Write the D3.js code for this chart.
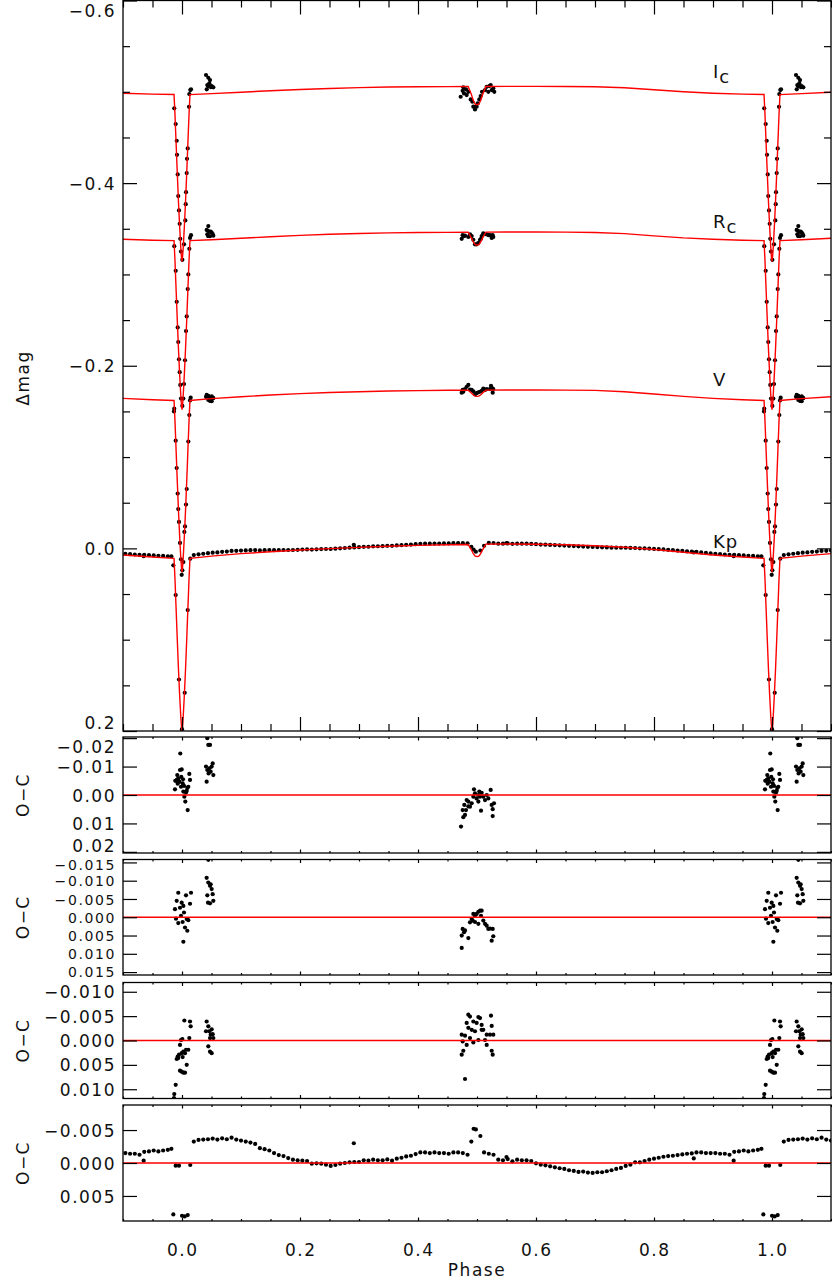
<!DOCTYPE html>
<html><head><meta charset="utf-8">
<script src="https://cdn.jsdelivr.net/npm/d3@7"></script>
<style>body{margin:0;background:#fff}svg{display:block}</style>
</head><body><svg id="c" width="832" height="1285"></svg>
<script>
// ---------------- DATA ----------------
const xTicks = [0, 0.2, 0.4, 0.6, 0.8, 1.0];
const xMinor = [-0.1,-0.05,0.05,0.1,0.15,0.25,0.3,0.35,0.45,0.5,0.55,0.65,0.7,0.75,0.85,0.9,0.95,1.05,1.1];
const yTicksTop = [-0.6, -0.4, -0.2, 0.0, 0.2];
const yMinorTop = [-0.55,-0.5,-0.45,-0.35,-0.3,-0.25,-0.15,-0.1,-0.05,0.05,0.1,0.15];
const yTicksIc = [-0.02, -0.01, 0.00, 0.01, 0.02];
const yTicksRc = [-0.015, -0.010, -0.005, 0.000, 0.005, 0.010, 0.015];
const yTicksV  = [-0.010, -0.005, 0.000, 0.005, 0.010];
const yTicksKp = [-0.005, 0.000, 0.005];
const bandLabels = [["I","c",-0.515],["R","c",-0.351],["V","",-0.178],["Kp","",0.0]];

// model light curves, phase 0..1 : [phase, delta mag]
const modelKp = [[0,0.2000],[0.001,0.1943],[0.002,0.1849],[0.004,0.1603],[0.006,0.1320],[0.008,0.0998],[0.010,0.0658],[0.012,0.0318],[0.0135,0.0110],[0.05,0.0085],[0.1,0.0058],[0.15,0.0037],[0.2,0.0018],[0.25,0.0003],[0.3,-0.0011],[0.35,-0.0023],[0.4,-0.0033],[0.45,-0.0040],[0.485,-0.0043],[0.490,0.0010],[0.494,0.0061],[0.497,0.0086],[0.5,0.0090],[0.503,0.0086],[0.506,0.0061],[0.510,0.0010],[0.515,-0.0046],[0.55,-0.0048],[0.6,-0.0046],[0.65,-0.0040],[0.7,-0.0029],[0.75,-0.0012],[0.8,0.0012],[0.85,0.0042],[0.9,0.0072],[0.95,0.0095],[0.9865,0.0110],[0.988,0.0318],[0.990,0.0658],[0.992,0.0998],[0.994,0.1320],[0.996,0.1603],[0.998,0.1849],[0.999,0.1943],[1.0,0.2000]];
const modelV = [[0,0.0260],[0.001,0.0204],[0.002,0.0110],[0.004,-0.0135],[0.006,-0.0417],[0.008,-0.0736],[0.010,-0.1075],[0.012,-0.1413],[0.0135,-0.1620],[0.05,-0.1640],[0.1,-0.1660],[0.15,-0.1680],[0.2,-0.1695],[0.25,-0.1707],[0.3,-0.1716],[0.35,-0.1723],[0.4,-0.1728],[0.45,-0.1731],[0.485,-0.1732],[0.490,-0.1705],[0.494,-0.1680],[0.497,-0.1667],[0.5,-0.1665],[0.503,-0.1667],[0.506,-0.1680],[0.510,-0.1705],[0.515,-0.1733],[0.55,-0.1734],[0.6,-0.1734],[0.65,-0.1733],[0.7,-0.1730],[0.75,-0.1715],[0.8,-0.1690],[0.85,-0.1665],[0.9,-0.1643],[0.95,-0.1628],[0.9865,-0.1620],[0.988,-0.1413],[0.990,-0.1075],[0.992,-0.0736],[0.994,-0.0417],[0.996,-0.0135],[0.998,0.0110],[0.999,0.0204],[1.0,0.0260]];
const modelRc = [[0,-0.1520],[0.001,-0.1576],[0.002,-0.1668],[0.004,-0.1909],[0.006,-0.2186],[0.008,-0.2500],[0.010,-0.2834],[0.012,-0.3167],[0.0135,-0.3370],[0.05,-0.3380],[0.1,-0.3396],[0.15,-0.3412],[0.2,-0.3428],[0.25,-0.3440],[0.3,-0.3449],[0.35,-0.3455],[0.4,-0.3459],[0.45,-0.3461],[0.485,-0.3462],[0.490,-0.3406],[0.494,-0.3353],[0.497,-0.3326],[0.5,-0.3322],[0.503,-0.3326],[0.506,-0.3353],[0.510,-0.3406],[0.515,-0.3463],[0.55,-0.3464],[0.6,-0.3464],[0.65,-0.3463],[0.7,-0.3460],[0.75,-0.3447],[0.8,-0.3422],[0.85,-0.3400],[0.9,-0.3386],[0.95,-0.3375],[0.9865,-0.3370],[0.988,-0.3167],[0.990,-0.2834],[0.992,-0.2500],[0.994,-0.2186],[0.996,-0.1909],[0.998,-0.1668],[0.999,-0.1576],[1.0,-0.1520]];
const modelIc = [[0,-0.3140],[0.001,-0.3195],[0.002,-0.3286],[0.004,-0.3524],[0.006,-0.3799],[0.008,-0.4110],[0.010,-0.4439],[0.012,-0.4769],[0.0135,-0.4970],[0.05,-0.4980],[0.1,-0.4996],[0.15,-0.5011],[0.2,-0.5025],[0.25,-0.5037],[0.3,-0.5046],[0.35,-0.5052],[0.4,-0.5055],[0.45,-0.5057],[0.485,-0.5058],[0.490,-0.4978],[0.494,-0.4902],[0.497,-0.4864],[0.5,-0.4858],[0.503,-0.4864],[0.506,-0.4902],[0.510,-0.4978],[0.515,-0.5059],[0.55,-0.5060],[0.6,-0.5060],[0.65,-0.5059],[0.7,-0.5056],[0.75,-0.5044],[0.8,-0.5022],[0.85,-0.5000],[0.9,-0.4985],[0.95,-0.4975],[0.9865,-0.4970],[0.988,-0.4769],[0.990,-0.4439],[0.992,-0.4110],[0.994,-0.3799],[0.996,-0.3524],[0.998,-0.3286],[0.999,-0.3195],[1.0,-0.3140]];

// Kepler data: phase, delta mag, O-C
const kpPhase = [0.0000,0.0046,0.0097,0.0140,0.020,0.028,0.036,0.044,0.052,0.060,0.068,0.076,0.084,0.092,0.100,0.108,0.116,0.124,0.132,0.140,0.148,0.156,0.164,0.172,0.180,0.188,0.196,0.204,0.212,0.220,0.228,0.236,0.244,0.252,0.260,0.268,0.276,0.284,0.2912,0.292,0.300,0.308,0.316,0.324,0.332,0.340,0.348,0.356,0.364,0.372,0.380,0.388,0.396,0.404,0.412,0.420,0.428,0.436,0.444,0.452,0.460,0.468,0.476,0.484,0.4904,0.4943,0.4981,0.5057,0.512,0.520,0.528,0.536,0.544,0.550,0.552,0.560,0.568,0.576,0.584,0.592,0.600,0.608,0.616,0.624,0.632,0.640,0.648,0.656,0.664,0.672,0.680,0.688,0.696,0.704,0.712,0.720,0.728,0.736,0.744,0.752,0.760,0.768,0.776,0.784,0.792,0.800,0.808,0.816,0.824,0.832,0.840,0.848,0.856,0.864,0.8674,0.872,0.880,0.888,0.896,0.904,0.912,0.920,0.928,0.935,0.936,0.944,0.952,0.960,0.968,0.976,0.982,0.9853,0.9893,0.9949];
const kpMag = [0.1980,0.1582,0.0676,0.0113,0.0073,0.0065,0.0059,0.0053,0.0047,0.0044,0.0038,0.0035,0.0028,0.0027,0.0024,0.0022,0.0020,0.0019,0.0022,0.0020,0.0019,0.0020,0.0020,0.0018,0.0018,0.0018,0.0016,0.0013,0.0011,0.0013,0.0010,0.0008,0.0007,0.0007,0.0003,-0.0001,-0.0004,-0.0008,-0.0039,-0.0010,-0.0013,-0.0017,-0.0018,-0.0022,-0.0023,-0.0025,-0.0028,-0.0028,-0.0032,-0.0035,-0.0039,-0.0042,-0.0046,-0.0050,-0.0051,-0.0051,-0.0053,-0.0053,-0.0054,-0.0054,-0.0057,-0.0057,-0.0057,-0.0055,-0.0018,0.0013,0.0037,0.0023,-0.0028,-0.0060,-0.0059,-0.0052,-0.0052,-0.0057,-0.0054,-0.0050,-0.0052,-0.0051,-0.0051,-0.0049,-0.0046,-0.0042,-0.0041,-0.0038,-0.0036,-0.0033,-0.0031,-0.0028,-0.0025,-0.0022,-0.0020,-0.0017,-0.0015,-0.0014,-0.0011,-0.0010,-0.0008,-0.0008,-0.0007,-0.0007,-0.0005,-0.0004,-0.0001,0.0001,0.0003,0.0006,0.0009,0.0012,0.0016,0.0020,0.0024,0.0028,0.0032,0.0036,0.0045,0.0039,0.0044,0.0050,0.0055,0.0059,0.0064,0.0067,0.0072,0.0085,0.0071,0.0075,0.0077,0.0082,0.0083,0.0086,0.0087,0.0186,0.0511,0.1436];
const kpOC = [0.0080,0.0081,0.0079,0.0003,-0.00325,-0.0035,-0.00355,-0.0036,-0.0037,-0.00355,-0.00375,-0.0036,-0.00385,-0.00355,-0.0034,-0.00325,-0.0031,-0.0029,-0.00225,-0.0021,-0.0019,-0.0015,-0.0012,-0.00105,-0.00075,-0.0005,-0.0004,-0.00035,-0.0003,0.0001,0.00005,0.0001,0.00025,0.00045,0.0003,0.0001,0.0000,-0.0001,-0.0030,-0.00015,-0.00015,-0.0004,-0.00035,-0.0005,-0.0004,-0.0004,-0.00055,-0.00035,-0.00065,-0.0008,-0.0010,-0.0011,-0.00135,-0.0016,-0.0016,-0.0015,-0.0016,-0.0015,-0.0015,-0.0014,-0.0016,-0.0016,-0.0015,-0.00125,-0.00325,-0.0052,-0.0051,-0.0041,-0.0016,-0.0014,-0.00125,-0.0005,-0.0004,-0.0009,-0.0006,-0.00025,-0.0005,-0.0004,-0.0004,-0.0003,0.00005,0.00025,0.00035,0.0005,0.00065,0.0008,0.0009,0.0011,0.0012,0.00135,0.0013,0.00145,0.0015,0.0014,0.0014,0.00125,0.0011,0.0009,0.00075,0.00045,0.00025,-0.0001,-0.0001,-0.0003,-0.0005,-0.00065,-0.0008,-0.00095,-0.00105,-0.0011,-0.0012,-0.0013,-0.0014,-0.00145,-0.0007,-0.0016,-0.0016,-0.0015,-0.0015,-0.0015,-0.0014,-0.0014,-0.00125,-0.00035,-0.0017,-0.00175,-0.0019,-0.00175,-0.0019,-0.0020,-0.00215,0.0078,0.0004,0.0004];

// ground-based data: [phase, delta mag]
const icObs = [[-0.0131,-0.4819],[-0.0107,-0.4647],[-0.0090,-0.4464],[-0.0085,-0.4310],[-0.0073,-0.4095],[-0.0063,-0.3858],[-0.0051,-0.3701],[-0.0039,-0.3554],[-0.0029,-0.3390],[-0.0017,-0.3250],[0.0006,-0.3160],[0.0034,-0.3330],[0.0056,-0.3591],[0.0063,-0.3770],[0.0068,-0.3901],[0.0080,-0.4110],[0.0085,-0.4266],[0.0097,-0.4380],[0.0119,-0.4836],[0.0124,-0.4975],[0.0141,-0.5019],[0.0153,-0.5027],
 [0.0407,-0.5184],[0.0446,-0.5154],[0.0475,-0.5129],[0.0429,-0.5074],[0.0463,-0.5093],[0.0503,-0.5063],[0.0419,-0.5027],[0.0531,-0.5049],[0.0490,-0.5050],[0.0446,-0.5060],
 [0.4723,-0.4946],[0.4757,-0.5011],[0.4780,-0.4982],[0.4814,-0.5027],[0.4825,-0.4964],[0.4853,-0.5000],[0.4893,-0.4917],[0.4921,-0.4891],[0.4938,-0.4837],[0.4966,-0.4807],[0.4994,-0.4837],[0.5011,-0.4873],[0.5039,-0.4917],[0.5062,-0.4953],[0.5085,-0.5000],[0.5136,-0.5019],[0.5164,-0.5055],[0.5209,-0.5063],[0.5232,-0.5074],[0.5249,-0.5019],[0.5276,-0.5038],[0.5293,-0.5000],[0.5192,-0.5000],[0.4768,-0.5049]];
const rcObs = [[-0.0131,-0.3310],[-0.0107,-0.3040],[-0.0090,-0.2700],[-0.0073,-0.2420],[-0.0063,-0.2260],[-0.0051,-0.2070],[-0.0039,-0.1930],[-0.0029,-0.1790],[-0.0017,-0.1640],[0.0006,-0.1560],[0.0023,-0.1640],[0.0034,-0.1800],[0.0051,-0.2060],[0.0068,-0.2380],[0.0080,-0.2540],[0.0097,-0.2840],[0.0107,-0.3000],[0.0124,-0.3280],[0.0136,-0.3400],[0.0153,-0.3430],
 [0.0418,-0.3488],[0.0446,-0.3475],[0.0475,-0.3466],[0.0429,-0.3440],[0.0503,-0.3457],[0.0520,-0.3443],[0.0441,-0.3420],[0.0531,-0.3425],[0.0475,-0.3418],[0.0486,-0.3470],[0.0446,-0.3530],
 [0.4741,-0.3390],[0.4757,-0.3430],[0.4780,-0.3420],[0.4797,-0.3425],[0.4853,-0.3410],[0.4881,-0.3440],[0.4910,-0.3420],[0.4938,-0.3380],[0.4966,-0.3330],[0.4994,-0.3330],[0.5023,-0.3345],[0.5051,-0.3380],[0.5079,-0.3420],[0.5068,-0.3390],[0.5107,-0.3450],[0.5136,-0.3440],[0.5164,-0.3440],[0.5192,-0.3430],[0.5220,-0.3430],[0.5266,-0.3430],[0.5276,-0.3410],[0.5249,-0.3400]];
const vObs = [[-0.0136,-0.1500],[-0.0131,-0.1530],[-0.0107,-0.1180],[-0.0090,-0.0880],[-0.0073,-0.0600],[-0.0063,-0.0430],[-0.0051,-0.0290],[-0.0034,-0.0060],[-0.0017,0.0120],[0.0006,0.0240],[-0.0005,0.0290],[0.0023,0.0150],[0.0040,-0.0180],[0.0051,-0.0240],[0.0068,-0.0480],[0.0080,-0.0650],[0.0107,-0.1170],[0.0124,-0.1460],[0.0136,-0.1620],[0.0147,-0.1650],
 [0.0418,-0.1680],[0.0446,-0.1670],[0.0407,-0.1660],[0.0463,-0.1660],[0.0503,-0.1665],[0.0486,-0.1650],[0.0520,-0.1650],[0.0531,-0.1645],[0.0446,-0.1625],[0.0475,-0.1615],[0.0503,-0.1612],
 [0.4741,-0.1705],[0.4757,-0.1735],[0.4768,-0.1715],[0.4797,-0.1745],[0.4825,-0.1770],[0.4853,-0.1790],[0.4881,-0.1740],[0.4910,-0.1735],[0.4938,-0.1720],[0.4966,-0.1685],[0.4994,-0.1700],[0.5023,-0.1710],[0.5051,-0.1715],[0.5079,-0.1725],[0.5107,-0.1750],[0.5136,-0.1735],[0.5164,-0.1745],[0.5220,-0.1745],[0.5237,-0.1780],[0.5249,-0.1760],[0.5266,-0.1705],[0.5276,-0.1745]];

// residuals O-C: [phase, O-C]
const icOC = [[-0.0029,-0.0146],[-0.0119,-0.0020],[-0.0090,-0.0053],[-0.0063,-0.0059],[-0.0034,-0.0088],[-0.0005,-0.0090],[-0.0080,-0.0070],[-0.0046,-0.0047],[-0.0017,-0.0029],[0.0011,-0.0041],[0.0023,-0.0012],[0.0040,0.0006],[0.0056,0.0023],[0.0096,0.0053],[0.0080,-0.0015],[0.0107,-0.0029],[0.0136,-0.0053],[0.0124,-0.0074],[-0.0114,-0.0050],[-0.0073,-0.0040],[-0.0012,-0.0064],[0.0017,-0.0055],[0.0068,-0.0009],[0.0090,-0.0025],[0.0034,-0.0032],
 [0.0418,-0.0047],[0.0446,-0.0176],[0.0475,-0.0176],[0.0429,-0.0088],[0.0463,-0.0094],[0.0503,-0.0100],[0.0520,-0.0111],[0.0531,-0.0070],[0.0486,-0.0082],[0.0450,-0.0076],[0.0407,-0.0100],[0.0429,-0.0200],
 [0.4729,0.0111],[0.4768,0.0078],[0.4797,0.0070],[0.4757,0.0053],[0.4785,0.0035],[0.4825,0.0018],[0.4853,0.0023],[0.4881,0.0041],[0.4910,0.0029],[0.4938,0.0006],[0.4949,-0.0020],[0.4966,-0.0006],[0.4994,0.0012],[0.5023,0.0000],[0.5039,-0.0012],[0.5068,0.0055],[0.5079,-0.0008],[0.5107,0.0006],[0.5136,0.0018],[0.5164,0.0000],[0.5192,0.0012],[0.5232,-0.0018],[0.5249,0.0035],[0.5266,0.0050],[0.5266,0.0074],[0.5288,0.0029],[0.4853,0.0040],[0.4814,0.0053],[0.5023,0.0023],[0.5051,0.0006]];
const rcOC = [[-0.0063,-0.0067],[0.0068,-0.0060],[0.0153,-0.0067],[-0.0090,-0.0045],[-0.0005,-0.0040],[0.0136,-0.0037],[-0.0119,-0.0022],[-0.0034,-0.0026],[0.0034,-0.0013],[-0.0102,0.0004],[0.0080,0.0005],[0.0011,0.0013],[-0.0063,0.0016],[0.0107,0.0008],[0.0051,0.0028],[0.0090,0.0037],[0.0023,0.0067],[-0.0017,-0.0004],[0.0023,-0.0031],
 [0.0418,-0.0108],[0.0446,-0.0095],[0.0475,-0.0086],[0.0429,-0.0060],[0.0503,-0.0077],[0.0520,-0.0063],[0.0441,-0.0040],[0.0531,-0.0045],[0.0475,-0.0038],[0.0486,-0.0090],[0.0446,-0.0157],
 [0.4741,0.0084],[0.4757,0.0032],[0.4741,0.0050],[0.4780,0.0041],[0.4797,0.0036],[0.4853,0.0057],[0.4881,0.0014],[0.4910,0.0005],[0.4938,-0.0009],[0.4966,-0.0004],[0.4994,-0.0009],[0.5023,-0.0015],[0.5051,-0.0018],[0.5079,-0.0018],[0.5068,-0.0004],[0.5023,0.0018],[0.5107,0.0009],[0.5136,0.0018],[0.5164,0.0023],[0.5192,0.0032],[0.5220,0.0031],[0.5266,0.0032],[0.5276,0.0052],[0.5249,0.0064],[0.4966,0.0013],[0.4927,0.0009]];
const vOC = [[-0.0131,0.0110],[-0.0107,0.0091],[-0.0090,0.0038],[-0.0073,0.0033],[-0.0051,0.0029],[-0.0034,0.0009],[-0.0017,-0.0001],[0.0006,-0.0003],[-0.0005,0.0026],[0.0023,0.0023],[0.0051,0.0026],[0.0068,0.0019],[0.0040,-0.0041],[0.0136,-0.0039],[0.0147,-0.0029],[0.0124,-0.0005],[0.0107,0.0019],[0.0080,0.0050],[-0.0005,0.0064],[0.0023,0.0066],[0.0051,0.0066],[-0.0034,0.0062],[-0.0063,0.0036],[0.0011,0.0034],[-0.0136,0.0118],
 [0.0418,-0.0039],[0.0446,-0.0029],[0.0407,-0.0019],[0.0463,-0.0019],[0.0503,-0.0023],[0.0486,-0.0012],[0.0520,-0.0013],[0.0531,-0.0005],[0.0446,0.0012],[0.0475,0.0023],[0.0503,0.0026],[0.0475,-0.0005],
 [0.4853,-0.0053],[0.4881,-0.0049],[0.5023,-0.0048],[0.5051,-0.0046],[0.5237,-0.0051],[0.4825,-0.0036],[0.4938,-0.0039],[0.4994,-0.0036],[0.5079,-0.0032],[0.5249,-0.0030],[0.4853,-0.0026],[0.4910,-0.0022],[0.5107,-0.0022],[0.4966,-0.0019],[0.4741,-0.0012],[0.4797,-0.0010],[0.5164,-0.0012],[0.5276,-0.0012],[0.5220,-0.0012],[0.4881,-0.0005],[0.5023,-0.0001],[0.5136,-0.0001],[0.4757,0.0002],[0.4938,0.0004],[0.4825,0.0009],[0.5164,0.0009],[0.4768,0.0021],[0.5249,0.0021],[0.4741,0.0029],[0.5266,0.0029],[0.4797,0.0079],[0.5079,-0.0022]];

// ---------------- DRAWING ----------------
const FONT = '"DejaVu Sans", "Liberation Sans", sans-serif';
const svg = d3.select('#c');
const XL = 123, XR = 831;
const x = d3.scaleLinear().domain([-0.1, 1.1]).range([XL, XR]);
const defs = svg.append('defs');

function wrapPts(arr, lo, hi) {
  const out = [];
  for (const s of [-1, 0, 1]) for (const d of arr) {
    const q = d[0] + s;
    if (q >= lo && q <= hi) out.push([q, d[1]]);
  }
  return out;
}
const line = (y) => d3.line().x(d => x(d[0])).y(d => y(d[1]));

function panel(cfg) {
  const y = d3.scaleLinear().domain(cfg.dom).range([cfg.y0, cfg.y1]);
  const id = 'clip' + cfg.id;
  defs.append('clipPath').attr('id', id).append('rect')
    .attr('x', XL).attr('y', cfg.y0).attr('width', XR - XL).attr('height', cfg.y1 - cfg.y0);
  const g = svg.append('g');
  const plot = g.append('g').attr('clip-path', `url(#${id})`);

  const fmt = d3.format(cfg.fmt);
  const left = g.append('g').attr('transform', `translate(${XL},0)`)
    .call(d3.axisLeft(y).tickValues(cfg.ticks).tickSize(-14).tickPadding(7).tickFormat(fmt));
  left.select('.domain').remove();
  left.attr('font-family', FONT).attr('font-size', cfg.fs || 17).attr('color', '#000');
  left.selectAll('.tick').each(function (d) {
    const yy = y(d);
    const c = Math.max(cfg.y0 + cfg.padT, Math.min(cfg.y1 - cfg.padB, yy));
    d3.select(this).select('text').attr('y', c - yy).attr('dy', '0.36em')
      .attr('letter-spacing', (cfg.ls || 1.5) + 'px').attr('fill', '#111');
  });
  const right = g.append('g').attr('transform', `translate(${XR},0)`)
    .call(d3.axisRight(y).tickValues(cfg.ticks).tickSize(-14).tickFormat(''));
  right.select('.domain').remove();
  if (cfg.minor) {
    for (const [tx, ax] of [[XL, d3.axisLeft], [XR, d3.axisRight]]) {
      const m = g.append('g').attr('transform', `translate(${tx},0)`)
        .call(ax(y).tickValues(cfg.minor).tickSize(-7).tickFormat(''));
      m.select('.domain').remove();
    }
  }
  for (const [ty, ax] of [[cfg.y0, d3.axisTop], [cfg.y1, d3.axisBottom]]) {
    const a = g.append('g').attr('transform', `translate(0,${ty})`)
      .call(ax(x).tickValues(xTicks).tickSize(-cfg.xmaj).tickFormat(''));
    a.select('.domain').remove();
    const b = g.append('g').attr('transform', `translate(0,${ty})`)
      .call(ax(x).tickValues(xMinor).tickSize(-cfg.xmin).tickFormat(''));
    b.select('.domain').remove();
  }
  g.selectAll('.tick line').attr('stroke', '#000').attr('stroke-width', 1.2);
  return { y, plot, g };
}

function dots(plot, y, pts) {
  plot.append('g').selectAll('circle').data(wrapPts(pts, -0.11, 1.11)).join('circle')
    .attr('cx', d => x(d[0])).attr('cy', d => y(d[1])).attr('r', 2.1).attr('fill', '#000');
}
function frame(cfg) {
  svg.append('rect').attr('x', XL).attr('y', cfg.y0).attr('width', XR - XL).attr('height', cfg.y1 - cfg.y0)
    .attr('fill', 'none').attr('stroke', '#000').attr('stroke-width', 1.3);
}

// top panel
const topCfg = { id: 'top', y0: 0.5, y1: 731, dom: [-0.6, 0.2], ticks: yTicksTop, minor: yMinorTop, fmt: '.1f', padT: 10, padB: 9, xmaj: 14, xmin: 7 };
const T = panel(topCfg);
const kpPts = kpPhase.map((p, i) => [p, kpMag[i]]);
[icObs, rcObs, vObs, kpPts].forEach(a => dots(T.plot, T.y, a));
[modelIc, modelRc, modelV, modelKp].forEach(m => {
  T.plot.append('path').datum(wrapPts(m, -0.3, 1.3).sort((a, b) => a[0] - b[0]))
    .attr('d', line(T.y)).attr('fill', 'none').attr('stroke', '#ff0000').attr('stroke-width', 1.4);
});
frame(topCfg);

// band labels
const lab = svg.append('g').attr('font-family', FONT).attr('font-size', 18).attr('fill', '#111').attr('letter-spacing', '1px');
bandLabels.forEach(([main, sub, v]) => {
  const t = lab.append('text').attr('x', 713).attr('y', T.y(v));
  t.append('tspan').text(main);
  if (sub) t.append('tspan').attr('dy', 5).text(sub);
});

// residual panels
const resCfgs = [
  { id: 'ic', y0: 737, y1: 853, dom: [-0.0204, 0.0204], ticks: yTicksIc, fmt: '.2f', data: icOC, padT: 9, padB: 8 },
  { id: 'rc', y0: 859.5, y1: 975, dom: [-0.0158, 0.0158], ticks: yTicksRc, fmt: '.3f', data: rcOC, padT: 4.5, padB: 4, fs: 14, ls: 1.6 },
  { id: 'v', y0: 982.5, y1: 1098.5, dom: [-0.0119, 0.0119], ticks: yTicksV, fmt: '.3f', data: vOC, padT: 9, padB: 7 },
  { id: 'kp', y0: 1105, y1: 1221, dom: [-0.0088, 0.0088], ticks: yTicksKp, fmt: '.3f', data: kpPhase.map((p, i) => [p, kpOC[i]]), padT: 9, padB: 7 }
];
resCfgs.forEach(c => {
  Object.assign(c, { xmaj: 3.5, xmin: 2 });
  const P = panel(c);
  dots(P.plot, P.y, c.data);
  P.plot.append('line').attr('x1', XL).attr('x2', XR).attr('y1', P.y(0)).attr('y2', P.y(0))
    .attr('stroke', '#ff0000').attr('stroke-width', 1.4);
  frame(c);
  svg.append('text').attr('transform', `translate(23,${(c.y0 + c.y1) / 2}) rotate(-90)`)
    .attr('text-anchor', 'middle').attr('dy', '0.36em').attr('font-family', FONT).attr('font-size', 17)
    .attr('letter-spacing', '1.5px').attr('fill', '#111').text('O\u2212C');
});

// bottom x labels
svg.append('g').selectAll('text').data(xTicks).join('text')
  .attr('x', d => x(d) + 0.8).attr('y', 1256).attr('text-anchor', 'middle')
  .attr('font-family', FONT).attr('font-size', 17).attr('letter-spacing', '1.5px').attr('fill', '#111')
  .text(d3.format('.1f'));
svg.append('text').attr('x', x(0.5)).attr('y', 1276).attr('text-anchor', 'middle')
  .attr('font-family', FONT).attr('font-size', 17).attr('letter-spacing', '1.5px').attr('fill', '#111').text('Phase');
svg.append('text').attr('transform', 'translate(23,378) rotate(-90)').attr('text-anchor', 'middle').attr('dy', '0.36em')
  .attr('font-family', FONT).attr('font-size', 17).attr('letter-spacing', '1.5px').attr('fill', '#111').text('\u0394mag');
</script></body></html>
